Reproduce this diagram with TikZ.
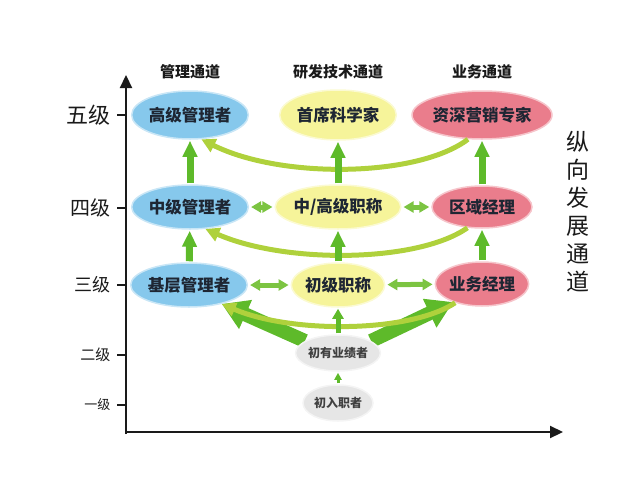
\documentclass[tikz,border=0pt]{standalone}
\usepackage{fontspec}
\setmainfont{Noto Sans CJK SC}
\usetikzlibrary{arrows.meta,shapes.geometric}
\pgfdeclarelayer{behind}
\pgfsetlayers{behind,main}

\definecolor{mgblue}{HTML}{86C8EC}
\definecolor{rdyellow}{HTML}{F6F49A}
\definecolor{bzred}{HTML}{EA7D8C}
\definecolor{entgray}{HTML}{E6E6E6}
\definecolor{upgreen}{HTML}{5EBA2A}
\definecolor{sidegreen}{HTML}{7CC442}
\definecolor{crossgreen}{HTML}{AFD13C}
\definecolor{nodetxt}{HTML}{1E2633}
\definecolor{axisblack}{HTML}{1A1A1A}

\tikzset{
  lvl/.style={ellipse, inner sep=0pt, minimum width=100pt, minimum height=44pt,
    draw=white!55!#1, line width=1.5pt, fill=#1, text=nodetxt,
    font=\fontsize{16.5}{18}\selectfont\bfseries},
  entry/.style={lvl=entgray, minimum width=80pt, minimum height=36pt,
    text=black!75, font=\fontsize{12}{14}\selectfont\bfseries},
  header/.style={text=axisblack, font=\fontsize{15}{16}\selectfont\bfseries},
  uparrow/.style={upgreen, line width=7pt, -{Triangle[width=14pt,length=16pt]},
    shorten <=1pt, shorten >=1pt},
  sidearrow/.style={sidegreen, line width=5pt,
    {Triangle[width=11pt,length=10pt]}-{Triangle[width=11pt,length=10pt]},
    shorten <=2pt, shorten >=2pt},
  bigarrow/.style={upgreen, line width=14pt, -{Triangle[width=30pt,length=26pt]}},
  crossarrow/.style={crossgreen, line width=5pt, -{Triangle[width=14pt,length=14pt]}},
  axis/.style={axisblack, line width=2.2pt, -{Triangle[width=12pt,length=13pt]}}
}

\begin{document}
\begin{tikzpicture}[x=1pt,y=-1pt]
    \useasboundingbox (0,0) rectangle (640,482);

    % Axes
    \draw[axis] (126,434) -- (126,75);
    \draw[axis] (125,432) -- (563,432);

    % Level ticks
    \foreach \y/\txt/\sz in {115/五级/22, 208/四级/20, 285/三级/18, 355/二级/15, 405/一级/13} {
        \draw[axisblack, line width=1.5pt] (117,\y) -- (126,\y);
        \node[anchor=east, text=axisblack, font=\fontsize{\sz}{\sz}\selectfont] (t\y) at (114,\y) {\txt};
    }

    % Channel headers
    \node[header] (hmg) at (190,72) {管理通道};
    \node[header] (hrd) at (338,72) {研发技术通道};
    \node[header] (hbz) at (482,72) {业务通道};
    \node[align=center, text=axisblack, font=\fontsize{23}{28}\selectfont] (vtitle) at (578,212) {纵\\向\\发\\展\\通\\道};

    % Management channel
    \node[lvl=mgblue, minimum width=110pt, minimum height=48pt] (gjgl) at (190,115) {高级管理者};
    \node[lvl=mgblue] (zjgl) at (190,207) {中级管理者};
    \node[lvl=mgblue, minimum width=92pt] (jcgl) at (189,285) {基层管理者};

    % R&D channel
    \node[lvl=rdyellow, minimum width=112pt, minimum height=50pt] (sxkx) at (338,115) {首席科学家};
    \node[lvl=rdyellow] (zgzc) at (338,207) {中/高级职称};
    \node[lvl=rdyellow, minimum width=92pt] (cjzc) at (338,285) {初级职称};

    % Business channel
    \node[lvl=bzred, minimum width=110pt, minimum height=48pt] (zsyx) at (482,115) {资深营销专家};
    \node[lvl=bzred, minimum height=42pt] (qyjl) at (482,207) {区域经理};
    \node[lvl=bzred, minimum width=92pt] (ywjl) at (482,284) {业务经理};

    % Entry levels
    \node[entry] (cyyj) at (338,353) {初有业绩者};
    \node[entry, minimum width=70pt] (crzz) at (338,403) {初入职者};

    % Big arrows out of the first results level (behind the node)
    \begin{pgfonlayer}{behind}
        \draw[bigarrow] (cyyj.160) -- (jcgl.-30);
        \draw[bigarrow] (cyyj.20) -- (ywjl.212);
    \end{pgfonlayer}

    % Cross-channel curves
    \draw[crossarrow] (zsyx.240) .. controls +(-50,38) and +(80,40) .. (gjgl.-65);
    \draw[crossarrow] (qyjl.235) .. controls +(-50,35) and +(80,35) .. (zjgl.-55);
    \draw[crossarrow] (ywjl.215) .. controls +(-45,30) and +(70,30) .. (jcgl.-30);

    % Vertical promotion
    \draw[uparrow] (zjgl) -- (gjgl);
    \draw[uparrow] (jcgl) -- (zjgl);
    \draw[uparrow] (zgzc) -- (sxkx);
    \draw[uparrow] (cjzc) -- (zgzc);
    \draw[uparrow] (qyjl) -- (zsyx);
    \draw[uparrow] (ywjl) -- (qyjl);
    \draw[uparrow, line width=5pt, -{Triangle[width=11pt,length=10pt]}] (cyyj) -- (cjzc);
    \draw[uparrow, line width=3pt, -{Triangle[width=7pt,length=7pt]}] (crzz) -- (cyyj);

    % Horizontal exchange
    \draw[sidearrow] (zjgl) -- (zgzc);
    \draw[sidearrow] (zgzc) -- (qyjl);
    \draw[sidearrow] (jcgl) -- (cjzc);
    \draw[sidearrow] (cjzc) -- (ywjl);
\end{tikzpicture}
\end{document}
